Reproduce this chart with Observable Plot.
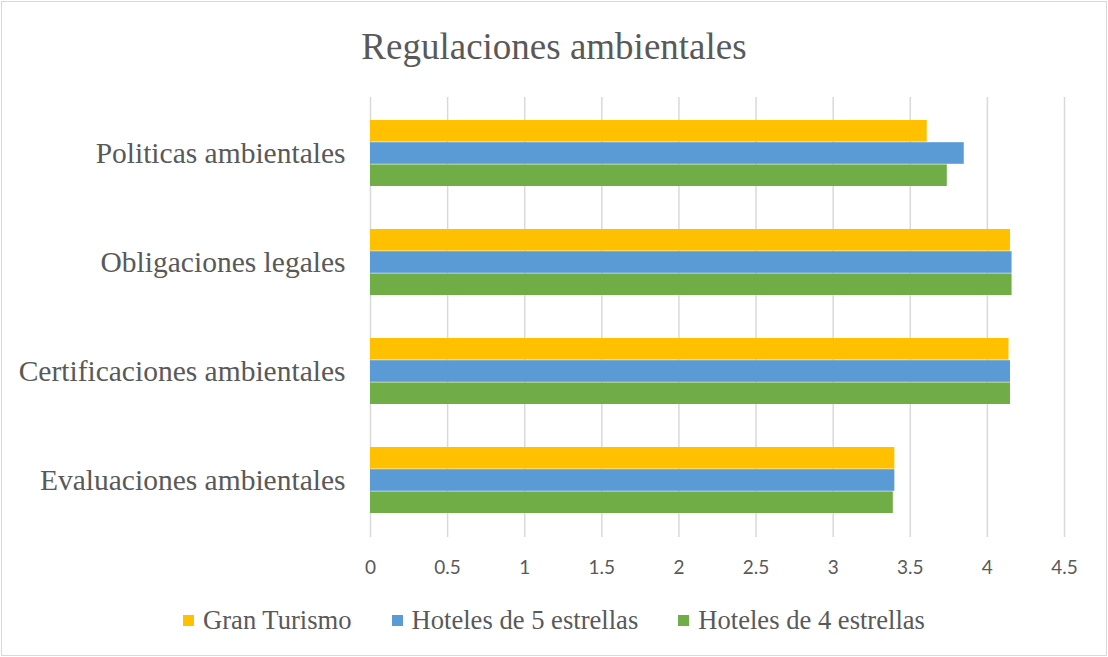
<!DOCTYPE html>
<html>
<head>
<meta charset="utf-8">
<script src="https://cdn.jsdelivr.net/npm/d3@7"></script>
<script src="https://cdn.jsdelivr.net/npm/@observablehq/plot@0.6"></script>
<style>
  html, body { margin: 0; padding: 0; background: #fff; }
  #chart { position: relative; width: 1108px; height: 657px; overflow: hidden; }
  #border { position: absolute; left: 1px; top: 1px; width: 1104px; height: 653px; border: 1px solid #d9d9d9; }
  #title { position: absolute; left: 0; top: 22px; width: 1108px; height: 50px; line-height: 50px; text-align: center;
           font-family: "Liberation Serif", "Times New Roman", serif; font-size: 37px; color: #595959; }
  #plot { position: absolute; left: 0; top: 90px; }
  #legend { position: absolute; left: 0; top: 605px; width: 1108px; height: 30px; line-height: 30px;
            display: flex; justify-content: center; gap: 40px;
            font-family: "Liberation Serif", "Times New Roman", serif; font-size: 26.6px; color: #595959; }
  .item { display: flex; align-items: center; }
  .sw { width: 11px; height: 11px; margin-right: 9px; }
</style>
</head>
<body>
<div id="chart">
  <div id="border"></div>
  <div id="title">Regulaciones ambientales</div>
  <div id="plot"></div>
  <div id="legend"></div>
</div>
<script>
const titleText = "Regulaciones ambientales";
const categories = ["Politicas ambientales", "Obligaciones legales", "Certificaciones ambientales", "Evaluaciones ambientales"];
const seriesNames = ["Gran Turismo", "Hoteles de 5 estrellas", "Hoteles de 4 estrellas"];
const seriesColors = ["#FFC000", "#5B9BD5", "#70AD47"];
const granTurismo = [3.61, 4.15, 4.14, 3.40];
const hoteles5 = [3.85, 4.16, 4.15, 3.40];
const hoteles4 = [3.74, 4.16, 4.15, 3.39];
const xTicks = [0, 0.5, 1, 1.5, 2, 2.5, 3, 3.5, 4, 4.5];

const seriesValues = [granTurismo, hoteles5, hoteles4];

const width = 1108, height = 500;
const marginTop = 7, marginBottom = 53, marginLeft = 370, marginRight = 44;
const padInner = 0.39, padOuter = 0.21;
const step = (height - marginTop - marginBottom) / (categories.length - padInner + 2 * padOuter);
const bw = step * (1 - padInner);
const barH = bw / seriesNames.length;

const barMarks = seriesNames.map((name, i) => {
  const rows = categories.map((c, j) => ({category: c, value: seriesValues[i][j]}));
  return Plot.barX(rows, {
    y: "category", x1: 0, x2: "value",
    fill: seriesColors[i],
    insetTop: i * barH,
    insetBottom: (seriesNames.length - 1 - i) * barH
  });
});

const chart = Plot.plot({
  width, height, marginTop, marginBottom, marginLeft, marginRight,
  style: {background: "transparent", overflow: "visible"},
  x: {domain: [0, 4.5]},
  y: {domain: categories, paddingInner: padInner, paddingOuter: padOuter},
  marks: [
    Plot.gridX(xTicks, {stroke: "#d9d9d9", strokeOpacity: 1, strokeWidth: 1.5}),
    ...barMarks,
    Plot.axisX(xTicks, {tickSize: 0, tickPadding: 23, tickFormat: d => String(d), label: null,
      fontSize: 19, fontFamily: "Lato, 'Open Sans', sans-serif", fill: "#595959"}),
    Plot.axisY({tickSize: 0, tickPadding: 25, label: null,
      fontSize: 29.5, fontFamily: "'Liberation Serif', 'Times New Roman', serif", fill: "#595959"})
  ]
});
document.getElementById("plot").appendChild(chart);

const legend = document.getElementById("legend");
seriesNames.forEach((n, i) => {
  const it = document.createElement("div");
  it.className = "item";
  const sw = document.createElement("span");
  sw.className = "sw";
  sw.style.background = seriesColors[i];
  const t = document.createElement("span");
  t.textContent = n;
  it.appendChild(sw); it.appendChild(t);
  legend.appendChild(it);
});
</script>
</body>
</html>
